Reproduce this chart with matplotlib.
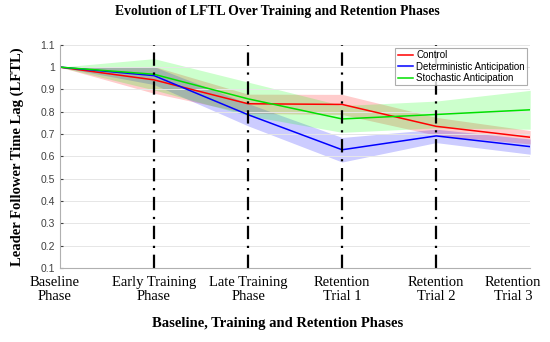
import numpy as np
import matplotlib.pyplot as plt
from matplotlib.ticker import FuncFormatter
import matplotlib.transforms as mtransforms

# phases on the x axis
phases = ['Baseline\nPhase', 'Early Training\nPhase', 'Late Training\nPhase',
          'Retention\nTrial 1', 'Retention\nTrial 2', 'Retention\nTrial 3']
x = np.arange(1, 7)

# mean LFTL per group
control = [1.0, 0.943, 0.836, 0.833, 0.735, 0.686]
deterministic = [1.0, 0.962, 0.787, 0.630, 0.692, 0.644]
stochastic = [1.0, 0.968, 0.858, 0.768, 0.788, 0.809]

# half-width of shaded band
control_err = [0.0, 0.06, 0.043, 0.045, 0.04, 0.03]
deterministic_err = [0.0, 0.04, 0.05, 0.055, 0.03, 0.034]
stochastic_err = [0.0, 0.07, 0.075, 0.06, 0.06, 0.087]

serif = ['Liberation Serif', 'DejaVu Serif']
sans = ['Liberation Sans', 'DejaVu Sans']

fig = plt.figure(figsize=(5.5, 3.42), dpi=100)
ax = fig.add_axes([0.109, 0.216, 0.855, 0.653])

series = [
    ('Control', control, control_err, '#ff0000'),
    ('Deterministic Anticipation', deterministic, deterministic_err, '#0000ff'),
    ('Stochastic Anticipation', stochastic, stochastic_err, '#00ff00'),
]
for name, m, e, col in series:
    m = np.array(m)
    e = np.array(e)
    ax.fill_between(x, m - e, m + e, color=col, alpha=0.2, linewidth=0)
for name, m, e, col in series:
    lc = '#00e000' if col == '#00ff00' else col
    ax.plot(x, m, color=lc, linewidth=1.1, label=name)

# phase separators
for xv in x[1:-1]:
    ax.axvline(xv, color='black', linestyle=(0, (6, 3, 1, 3)), linewidth=1.6)

ax.set_xlim(1, 6)
ax.set_ylim(0.1, 1.1)
ax.set_yticks(np.arange(0.1, 1.11, 0.1))
ax.yaxis.set_major_formatter(FuncFormatter(lambda v, p: '%g' % round(v, 1)))
ax.set_xticks(x)
ax.set_xticklabels(phases, family=serif, fontsize=10.5, linespacing=1.1)
ax.tick_params(axis='x', length=0, pad=6)
ax.tick_params(axis='y', labelsize=7.5, colors='#404040', length=2, direction='in')
for lbl in ax.get_yticklabels():
    lbl.set_family(sans)
for lbl in ax.get_xticklabels():
    lbl.set_color('black')
# shift outer labels inward so they fit
first = ax.get_xticklabels()[0]
first.set_transform(first.get_transform() + mtransforms.ScaledTranslation(-0.05, 0, fig.dpi_scale_trans))
last = ax.get_xticklabels()[-1]
last.set_transform(last.get_transform() + mtransforms.ScaledTranslation(-0.17, 0, fig.dpi_scale_trans))

ax.grid(axis='y', color='#e6e6e6', linewidth=0.7)
ax.grid(axis='x', visible=False)
for s in ['top', 'right']:
    ax.spines[s].set_visible(False)
for s in ['left', 'bottom']:
    ax.spines[s].set_color('#b0b0b0')
    ax.spines[s].set_linewidth(0.8)

fig.text(0.505, 0.965, 'Evolution of LFTL Over Training and Retention Phases',
         family=serif, fontsize=9.8, fontweight='bold', ha='center', va='center')
ax.set_ylabel('Leader Follower Time Lag (LFTL)', family=serif, fontsize=10.5,
              fontweight='bold', labelpad=12)
fig.text(0.505, 0.055, 'Baseline, Training and Retention Phases', family=serif,
         fontsize=10.5, fontweight='bold', ha='center', va='center')

leg = ax.legend(loc='upper right', prop={'family': sans, 'size': 7}, frameon=True,
                fancybox=False, borderpad=0.25, handlelength=1.6, handletextpad=0.3,
                labelspacing=0.15, borderaxespad=0.3)
leg.get_frame().set_edgecolor('#999999')
leg.get_frame().set_linewidth(0.8)

fig.savefig('out.png', dpi=100)
